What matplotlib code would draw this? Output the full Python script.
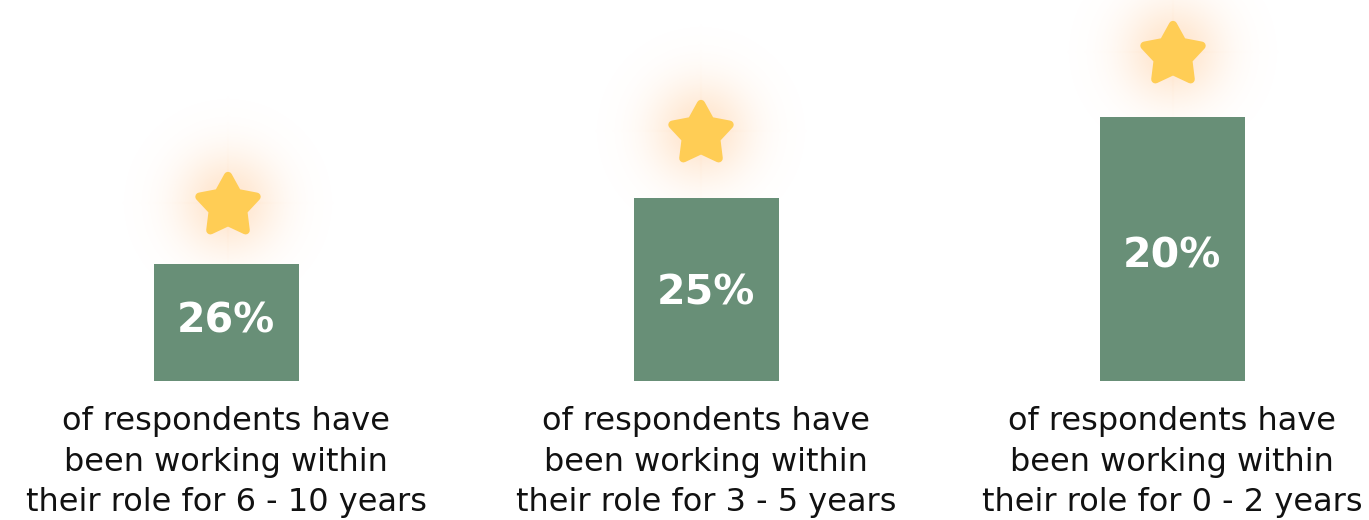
import numpy as np
import matplotlib.pyplot as plt
from matplotlib.patches import Polygon

# survey figures
shares = ["26%", "25%", "20%"]
captions = [
    "of respondents have\nbeen working within\ntheir role for 6 - 10 years",
    "of respondents have\nbeen working within\ntheir role for 3 - 5 years",
    "of respondents have\nbeen working within\ntheir role for 0 - 2 years",
]
# decorative step heights of the podium bars
steps = [117, 183, 264]

bar_x = [226, 706, 1172]
star_x = [228, 701, 1173]
star_gap = [61, 67, 65]
label_frac = [0.51, 0.48, 0.47]

BAR_C = "#688f77"
STAR_C = "#ffcd55"
GLOW_C = np.array([255, 178, 105]) / 255.0

fig = plt.figure(figsize=(13.69, 5.2), dpi=100)
ax = fig.add_axes([0, 0, 1, 1])
ax.set_xlim(0, 1369)
ax.set_ylim(-139, 381)
ax.axis("off")


def star_points(cx, cy, r_out, r_in):
    ang = np.pi / 2 + np.arange(10) * np.pi / 5
    r = np.where(np.arange(10) % 2 == 0, r_out, r_in)
    return np.column_stack([cx + r * np.cos(ang), cy + r * np.sin(ang)])


def glow(cx, cy, rad):
    n = 240
    g = np.linspace(-1, 1, n)
    xx, yy = np.meshgrid(g, g)
    d = np.sqrt(xx**2 + yy**2)
    a = 0.34 * np.exp(-(d / 0.45) ** 2)
    # faint cross streaks
    a += np.exp(-(xx / 0.01) ** 2) * np.exp(-(yy / 0.5) ** 2) * 0.05
    a += np.exp(-(yy / 0.01) ** 2) * np.exp(-(xx / 0.5) ** 2) * 0.04
    img = np.zeros((n, n, 4))
    img[..., :3] = GLOW_C
    img[..., 3] = np.clip(a, 0, 1)
    ax.imshow(img, extent=[cx - rad, cx + rad, cy - rad, cy + rad],
              origin="lower", zorder=1, interpolation="bilinear")


ax.bar(bar_x, steps, width=145, color=BAR_C, zorder=2)

for i in range(3):
    top = steps[i]
    sy = top + star_gap[i]
    glow(star_x[i], sy, 110)
    ax.add_patch(Polygon(star_points(star_x[i], sy - 3, 30, 16), closed=True,
                         facecolor=STAR_C, edgecolor=STAR_C, linewidth=6,
                         joinstyle="round", zorder=3))
    ax.text(bar_x[i], top * label_frac[i], shares[i],
            color="white", fontsize=29.5, fontweight="bold", family="DejaVu Sans",
            ha="center", va="center", zorder=4)
    ax.text(bar_x[i], -81, captions[i], color="#111111", fontsize=23,
            family="DejaVu Sans", ha="center", va="center", linespacing=1.38,
            zorder=4)

fig.savefig("out.png", dpi=100)
